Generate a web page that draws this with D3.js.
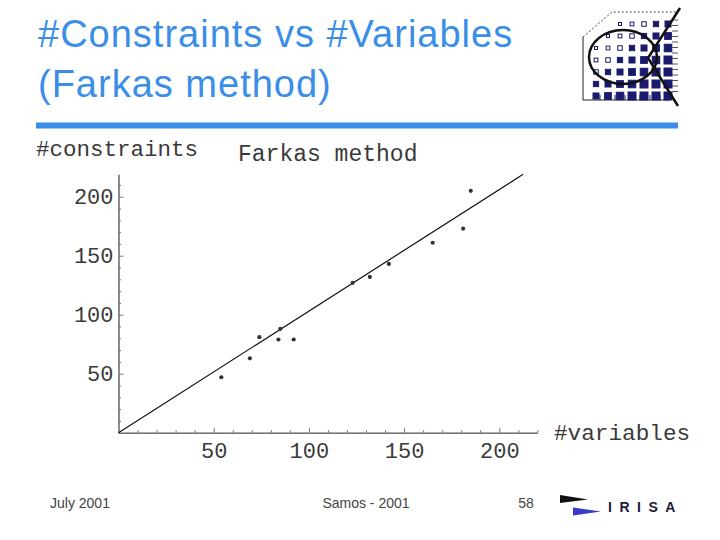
<!DOCTYPE html>
<html>
<head>
<meta charset="utf-8">
<script src="https://cdn.jsdelivr.net/npm/d3@7"></script>
<style>
  body { margin: 0; background: #fff; }
  svg { display: block; }
</style>
</head>
<body>
<svg width="720" height="540"></svg>
<script>
// data
const varCounts = [54, 69, 74, 84, 85, 92, 123, 132, 142, 165, 181, 185];
const constraintCounts = [47, 63, 81, 79, 88, 79, 127, 132, 143, 161, 173, 205];
const fitX = [0, 212.5];
const fitY = [0, 219];
const xTicks = [50, 100, 150, 200];
const yTicks = [50, 100, 150, 200];

const svg = d3.select('svg');
const mono = "'Liberation Mono', 'DejaVu Sans Mono', monospace";
const sans = "'Liberation Sans', Arial, sans-serif";
const ink = '#3a3a3a';

// slide title + rule
svg.append('text').attr('x', 38).attr('y', 47)
  .attr('font-family', sans).attr('font-size', 38).attr('letter-spacing', 1).attr('fill', '#3b8ee8')
  .text('#Constraints vs #Variables');
svg.append('text').attr('x', 38).attr('y', 97)
  .attr('font-family', sans).attr('font-size', 38).attr('letter-spacing', 1).attr('fill', '#3b8ee8')
  .text('(Farkas method)');
svg.append('rect').attr('x', 36).attr('y', 122.5).attr('width', 642).attr('height', 6)
  .attr('fill', '#3b8ee8');

// scales
const x = d3.scaleLinear().domain([0, 220]).range([118.5, 537.4]);
const y = d3.scaleLinear().domain([0, 219]).range([432.7, 174.3]);

const minorX = d3.range(10, 221, 10).filter(v => v % 50 !== 0);
const minorY = d3.range(10, 220, 10).filter(v => v % 50 !== 0);

const g = svg.append('g');

// x axis
g.append('g').attr('transform', 'translate(0,' + y(0) + ')')
  .call(d3.axisBottom(x).tickValues(minorX).tickSize(-2.5).tickFormat('').tickSizeOuter(0));
g.append('g').attr('transform', 'translate(0,' + y(0) + ')')
  .call(d3.axisBottom(x).tickValues(xTicks).tickSize(-5).tickSizeOuter(0).tickPadding(10));

// y axis
g.append('g').attr('transform', 'translate(' + x(0) + ',0)')
  .call(d3.axisLeft(y).tickValues(minorY).tickSize(-2.5).tickFormat('').tickSizeOuter(0));
g.append('g').attr('transform', 'translate(' + x(0) + ',0)')
  .call(d3.axisLeft(y).tickValues(yTicks).tickSize(-5).tickSizeOuter(0).tickPadding(5));

g.selectAll('.domain').attr('stroke', '#666');
g.selectAll('.tick line').attr('stroke', '#777');
g.selectAll('.tick text').attr('font-family', mono).attr('font-size', 22).attr('fill', ink);

// axis labels
svg.append('text').attr('x', 36).attr('y', 156)
  .attr('font-family', mono).attr('font-size', 22.5).attr('fill', ink).text('#constraints');
svg.append('text').attr('x', 238).attr('y', 161)
  .attr('font-family', mono).attr('font-size', 23).attr('fill', ink).text('Farkas method');
svg.append('text').attr('x', 554).attr('y', 440)
  .attr('font-family', mono).attr('font-size', 22.7).attr('fill', ink).text('#variables');

// fit line
svg.append('line')
  .attr('x1', x(fitX[0])).attr('y1', y(fitY[0]))
  .attr('x2', x(fitX[1])).attr('y2', y(fitY[1]))
  .attr('stroke', '#111').attr('stroke-width', 1.2);

// points
svg.selectAll('circle.pt')
  .data(varCounts)
  .enter()
  .append('circle')
  .attr('class', 'pt')
  .attr('cx', (d) => x(d))
  .attr('cy', (d, i) => y(constraintCounts[i]))
  .attr('r', 2.1)
  .attr('fill', '#333');

// footer
svg.append('text').attr('x', 50).attr('y', 508)
  .attr('font-family', sans).attr('font-size', 14).attr('fill', '#444').text('July 2001');
svg.append('text').attr('x', 366).attr('y', 508).attr('text-anchor', 'middle')
  .attr('font-family', sans).attr('font-size', 14).attr('fill', '#444').text('Samos - 2001');
svg.append('text').attr('x', 526).attr('y', 508).attr('text-anchor', 'middle')
  .attr('font-family', sans).attr('font-size', 14).attr('fill', '#444').text('58');

// IRISA logo
const irisa = svg.append('g');
irisa.append('path').attr('d', 'M560,495 L588,499.5 L560,503 Z').attr('fill', '#111');
irisa.append('path').attr('d', 'M573,507.5 L601,511.5 L573,515.5 Z').attr('fill', '#3a3ac8');
irisa.append('text').attr('x', 608).attr('y', 512)
  .attr('font-family', sans).attr('font-weight', 'bold').attr('font-size', 14)
  .attr('letter-spacing', 7.5).attr('fill', '#1a1a40').text('IRISA');

// top-right logo (decoration)
const logo = svg.append('g');
logo.append('path')
  .attr('d', 'M583,37 L583,100 L670,100')
  .attr('fill', 'none').attr('stroke', '#222').attr('stroke-width', 1);
logo.append('path')
  .attr('d', 'M583,37 L612,12 L678,12')
  .attr('fill', 'none').attr('stroke', '#444').attr('stroke-width', 1).attr('stroke-dasharray', '2,2');
for (let r = 0; r < 7; r++) {
  for (let c = 0; c < 7; c++) {
    if (r + c < 2) continue;
    const s = Math.min(8, 1.5 + (r + c) * 0.75);
    const cx = 596 + c * 12;
    const cy = 24 + r * 12;
    const filled = r + c > 4;
    logo.append('rect')
      .attr('x', cx - s / 2).attr('y', cy - s / 2).attr('width', s).attr('height', s)
      .attr('fill', filled ? '#1a1a6e' : '#fff')
      .attr('stroke', '#1a1a6e').attr('stroke-width', 1);
  }
}
for (let k = 0; k < 14; k++) {
  logo.append('line').attr('x1', 600 + k * 5).attr('x2', 600 + k * 5)
    .attr('y1', 95).attr('y2', 100).attr('stroke', '#1a1a6e').attr('stroke-width', 1);
  logo.append('line').attr('x1', 672).attr('x2', 678)
    .attr('y1', 20 + k * 5.5).attr('y2', 20 + k * 5.5).attr('stroke', '#555').attr('stroke-width', 1);
}
logo.append('ellipse').attr('cx', 623).attr('cy', 57).attr('rx', 34).attr('ry', 27)
  .attr('fill', 'none').attr('stroke', '#111').attr('stroke-width', 2.5);
logo.append('path').attr('d', 'M680,8 L648,58 L678,106')
  .attr('fill', 'none').attr('stroke', '#111').attr('stroke-width', 2.5);
</script>
</body>
</html>
